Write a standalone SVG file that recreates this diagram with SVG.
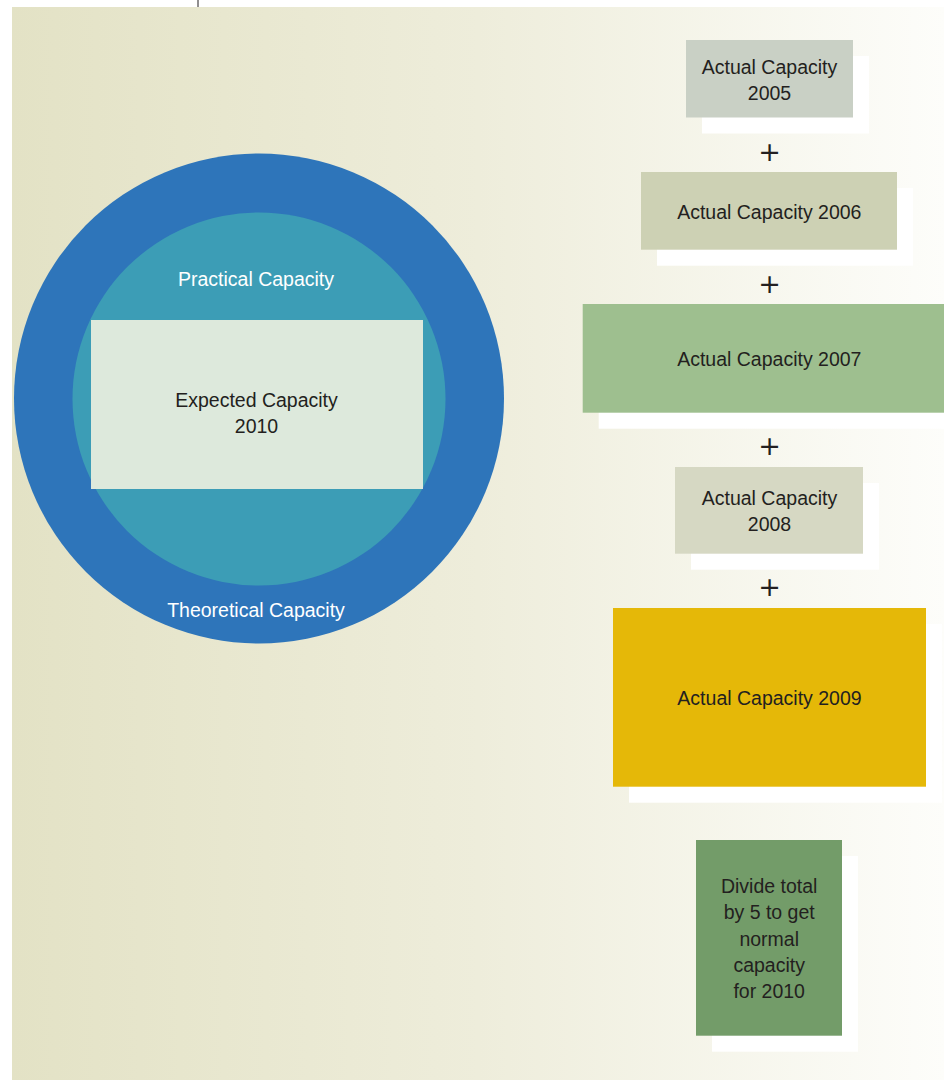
<svg xmlns="http://www.w3.org/2000/svg" width="944" height="1080" viewBox="0 0 944 1080">
  <defs>
    <linearGradient id="bg" x1="0" y1="0" x2="1" y2="0">
      <stop offset="0" stop-color="#e3e2c5"/>
      <stop offset="0.5" stop-color="#eeeddb"/>
      <stop offset="1" stop-color="#fdfdfa"/>
    </linearGradient>
    <style>
      .t { font-family: "Liberation Sans", Arial, sans-serif; font-size: 19.5px; fill: #231f20; text-anchor: middle; }
      .w { fill: #ffffff; }
      .shadow { fill: #ffffff; }
      .plus { font-family: "DejaVu Sans", sans-serif; font-size: 27px; fill: #231f20; text-anchor: middle; }
    </style>
  </defs>
  <rect x="0" y="0" width="944" height="1080" fill="#ffffff"/>
  <rect x="12" y="7" width="932" height="1073" fill="url(#bg)"/>
  <line x1="198" y1="0" x2="198" y2="7" stroke="#231f20" stroke-width="1"/>

  <g id="theoretical">
    <circle cx="259" cy="398.5" r="245" fill="#2e75ba"/>
    <text class="t w" x="256" y="617">Theoretical Capacity</text>
  </g>
  <g id="practical">
    <circle cx="259" cy="399" r="186.5" fill="#3c9db6"/>
    <text class="t w" x="256" y="285.5">Practical Capacity</text>
  </g>
  <g id="expected">
    <rect x="91" y="320" width="332" height="169" fill="#dde9dc"/>
    <text class="t" x="256.5" y="406.7">Expected Capacity</text>
    <text class="t" x="256.5" y="433.3">2010</text>
  </g>

  <g id="connectors">
    <text class="plus" x="769.5" y="160.5">+</text>
    <text class="plus" x="769.5" y="293.3">+</text>
    <text class="plus" x="769.5" y="455">+</text>
    <text class="plus" x="769.5" y="596.3">+</text>
  </g>

  <g id="cap2005">
    <rect class="shadow" x="702" y="56" width="167" height="77.5"/>
    <rect x="686" y="40" width="167" height="77.5" fill="#c9d0c5"/>
    <text class="t" x="769.5" y="74.3">Actual Capacity</text>
    <text class="t" x="769.5" y="100.3">2005</text>
  </g>
  <g id="cap2006">
    <rect class="shadow" x="657" y="188" width="256" height="77.7"/>
    <rect x="641" y="172" width="256" height="77.7" fill="#cdd1b4"/>
    <text class="t" x="769.3" y="219.3">Actual Capacity 2006</text>
  </g>
  <g id="cap2007">
    <rect class="shadow" x="598.7" y="320" width="345.3" height="108.7"/>
    <rect x="582.7" y="304" width="361.3" height="108.7" fill="#9ebf8f"/>
    <text class="t" x="769.3" y="366">Actual Capacity 2007</text>
  </g>
  <g id="cap2008">
    <rect class="shadow" x="691" y="483" width="188" height="86.7"/>
    <rect x="675" y="467" width="188" height="86.7" fill="#d6d8c3"/>
    <text class="t" x="769.5" y="504.7">Actual Capacity</text>
    <text class="t" x="769.5" y="531">2008</text>
  </g>
  <g id="cap2009">
    <rect class="shadow" x="629" y="624" width="313" height="178.7"/>
    <rect x="613" y="608" width="313" height="178.7" fill="#e5b808"/>
    <text class="t" x="769.5" y="705">Actual Capacity 2009</text>
  </g>
  <g id="normal">
    <rect class="shadow" x="712" y="856" width="146" height="195.7"/>
    <rect x="696" y="840" width="146" height="195.7" fill="#739c69"/>
    <text class="t" x="769.2" y="893.3">Divide total</text>
    <text class="t" x="769.2" y="919.3">by 5 to get</text>
    <text class="t" x="769.2" y="945.5">normal</text>
    <text class="t" x="769.2" y="971.8">capacity</text>
    <text class="t" x="769.2" y="998.3">for 2010</text>
  </g>
</svg>
